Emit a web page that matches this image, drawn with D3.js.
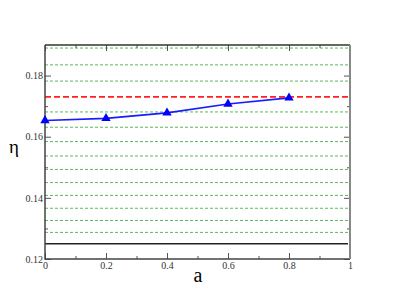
<!DOCTYPE html>
<html>
<head>
<meta charset="utf-8">
<script src="https://cdn.jsdelivr.net/npm/d3@7"></script>
<style>
  body { margin: 0; background: #fff; }
</style>
</head>
<body>
<div id="chart"></div>
<script>
const width = 395;
const height = 305;
const margin = {top: 45, right: 45, bottom: 46, left: 45};
const serif = "'Liberation Serif', 'DejaVu Serif', serif";

// data
const aValues = [0, 0.2, 0.4, 0.6, 0.8];
const etaValues = [0.1653, 0.1660, 0.1678, 0.1707, 0.1727];
const redLevel = 0.173;
const blackLevel = 0.125;
const greenLevels = [0.1890, 0.1835, 0.1782, 0.1681, 0.1631, 0.1584, 0.1537,
    0.1493, 0.1450, 0.1408, 0.1366, 0.1326, 0.1287];
const xTicks = [0, 0.2, 0.4, 0.6, 0.8, 1];
const yTicks = [0.12, 0.14, 0.16, 0.18];

const svg = d3.select("#chart").append("svg")
    .attr("width", width)
    .attr("height", height);

const x = d3.scaleLinear().domain([0, 1]).range([margin.left, width - margin.right]);
const y = d3.scaleLinear().domain([0.12, 0.19]).range([height - margin.bottom, margin.top]);

const x0 = x.range()[0], x1 = x.range()[1];
const lineEnd = x1 - 2;

// green dashed reference lines
svg.append("g")
    .selectAll("line")
    .data(greenLevels)
    .enter()
    .append("line")
    .attr("x1", x0).attr("x2", lineEnd)
    .attr("y1", d => y(d)).attr("y2", d => y(d))
    .attr("stroke", "#5cb85c")
    .attr("stroke-width", 1)
    .attr("stroke-dasharray", "3,2");

// red dashed line
svg.append("line")
    .attr("x1", x0).attr("x2", lineEnd)
    .attr("y1", y(redLevel)).attr("y2", y(redLevel))
    .attr("stroke", "#ff2020")
    .attr("stroke-width", 1.8)
    .attr("stroke-dasharray", "6,3");

// black solid line
svg.append("line")
    .attr("x1", x0).attr("x2", lineEnd)
    .attr("y1", y(blackLevel)).attr("y2", y(blackLevel))
    .attr("stroke", "#222")
    .attr("stroke-width", 1.5);

// axes, ticks pointing inward
const xMajor = d3.axisBottom(x).tickValues(xTicks).tickSize(-6).tickPadding(3)
    .tickFormat(d => d === 0 || d === 1 ? d3.format("d")(d) : d3.format(".1f")(d));
const xMinor = d3.axisBottom(x).tickValues([0.1, 0.3, 0.5, 0.7, 0.9]).tickSize(-3).tickFormat("");
const yMajor = d3.axisLeft(y).tickValues(yTicks).tickSize(-6).tickPadding(2).tickFormat(d3.format(".2f"));
const yMinor = d3.axisLeft(y).tickValues([0.13, 0.15, 0.17]).tickSize(-3).tickFormat("");

function styleAxis(g) {
    g.select(".domain").remove();
    g.attr("font-family", serif).attr("font-size", 10);
    g.selectAll(".tick line").attr("stroke", "#555");
    g.selectAll("text").attr("fill", "#333");
}

svg.append("g").attr("transform", "translate(0," + y.range()[0] + ")").call(xMajor).call(styleAxis);
svg.append("g").attr("transform", "translate(0," + y.range()[0] + ")").call(xMinor).call(styleAxis);
svg.append("g").attr("transform", "translate(0," + y.range()[1] + ")")
    .call(d3.axisTop(x).tickValues(xTicks).tickSize(-6).tickFormat("")).call(styleAxis);
svg.append("g").attr("transform", "translate(0," + y.range()[1] + ")")
    .call(d3.axisTop(x).tickValues([0.1, 0.3, 0.5, 0.7, 0.9]).tickSize(-3).tickFormat("")).call(styleAxis);
svg.append("g").attr("transform", "translate(" + x0 + ",0)").call(yMajor).call(styleAxis);
svg.append("g").attr("transform", "translate(" + x0 + ",0)").call(yMinor).call(styleAxis);
svg.append("g").attr("transform", "translate(" + x1 + ",0)")
    .call(d3.axisRight(y).tickValues(yTicks).tickSize(-6).tickFormat("")).call(styleAxis);
svg.append("g").attr("transform", "translate(" + x1 + ",0)")
    .call(d3.axisRight(y).tickValues([0.13, 0.15, 0.17]).tickSize(-3).tickFormat("")).call(styleAxis);

// frame
svg.append("path")
    .attr("d", "M" + x0 + "," + y.range()[1] + "H" + x1)
    .attr("stroke", "#333").attr("stroke-width", 1.5).attr("fill", "none");
svg.append("path")
    .attr("d", "M" + x0 + "," + y.range()[1] + "V" + y.range()[0] + "H" + x1)
    .attr("stroke", "#444").attr("stroke-width", 1.5).attr("fill", "none");
svg.append("path")
    .attr("d", "M" + x1 + "," + y.range()[1] + "V" + y.range()[0])
    .attr("stroke", "#888").attr("stroke-width", 2).attr("fill", "none");

// data series
const pts = aValues.map((a, i) => ({a: a, eta: etaValues[i]}));
const line = d3.line().x(d => x(d.a)).y(d => y(d.eta));

svg.append("path")
    .datum(pts)
    .attr("d", line)
    .attr("fill", "none")
    .attr("stroke", "#1a1aff")
    .attr("stroke-width", 1.6);

svg.append("g")
    .selectAll("path")
    .data(pts)
    .enter()
    .append("path")
    .attr("transform", d => "translate(" + x(d.a) + "," + y(d.eta) + ")")
    .attr("d", d3.symbol().type(d3.symbolTriangle).size(38))
    .attr("fill", "#0000ff");

// axis labels
svg.append("text")
    .attr("x", 198).attr("y", 282)
    .attr("text-anchor", "middle")
    .attr("font-family", serif)
    .attr("font-size", 20)
    .text("a");

svg.append("text")
    .attr("x", 14).attr("y", 153)
    .attr("text-anchor", "middle")
    .attr("font-family", serif)
    .attr("font-size", 19)
    .text("η");
</script>
</body>
</html>
